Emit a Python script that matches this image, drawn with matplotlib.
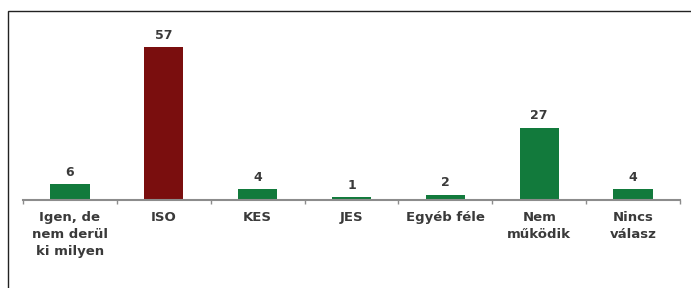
import matplotlib.pyplot as plt
import matplotlib.patches as mpatches
import numpy as np

categories = ['Igen, de\nnem derül\nki milyen', 'ISO', 'KES', 'JES',
              'Egyéb féle', 'Nem\nműködik', 'Nincs\nválasz']
values = [6, 57, 4, 1, 2, 27, 4]
colors = ['#127a3c', '#7a0e0e', '#127a3c', '#127a3c', '#127a3c', '#127a3c', '#127a3c']

plt.rcParams['font.family'] = ['DejaVu Sans']

W, H = 691, 288
fig = plt.figure(figsize=(W / 100, H / 100), dpi=100)

# frame: only top and left edges are in view
fig.patches.append(mpatches.Rectangle((8 / W, -0.1), 1.2, 1 - 11 / H + 0.1,
                                      transform=fig.transFigure, fill=False,
                                      edgecolor='#222222', linewidth=1.0))

ax = fig.add_axes([23 / W, 88 / H, 657 / W, 161 / H])
x = np.arange(len(values))
bars = ax.bar(x, values, width=0.42, color=colors, zorder=2)
for xi, v in zip(x, values):
    ax.text(xi, v + 2.0, str(v), ha='center', va='bottom', fontsize=9,
            fontweight='bold', color='#3a3a3a', clip_on=False)

ax.set_xlim(-0.5, len(values) - 0.5)
ax.set_ylim(0, 60)
for s in ['top', 'right', 'left']:
    ax.spines[s].set_visible(False)
ax.spines['bottom'].set_color('#8c8c8c')
ax.spines['bottom'].set_linewidth(1.5)
ax.set_yticks([])
ax.set_xticks(np.arange(len(values) + 1) - 0.5, minor=True)
ax.set_xticks(x)
ax.set_xticklabels(categories, fontsize=9.5, fontweight='bold', color='#3a3a3a',
                   linespacing=1.4, va='top')
ax.tick_params(axis='x', which='major', length=0, pad=8)
ax.tick_params(axis='x', which='minor', length=3, color='#8c8c8c', width=1)

fig.savefig('out.png', dpi=100)
